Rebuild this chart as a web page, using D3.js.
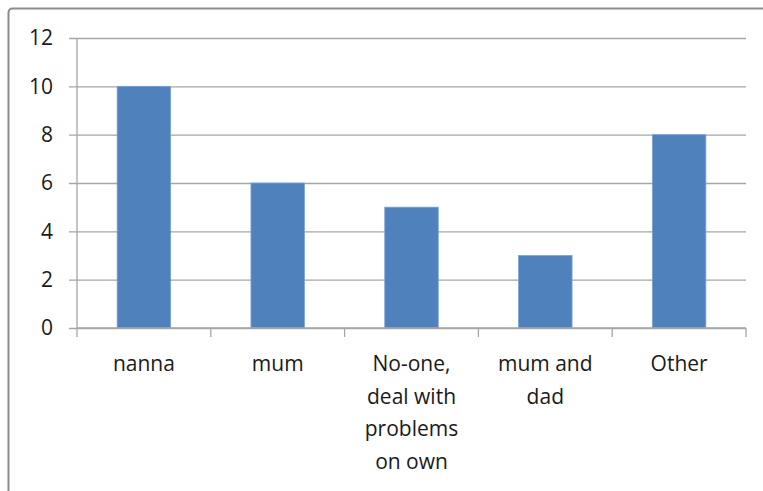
<!DOCTYPE html>
<html>
<head>
<meta charset="utf-8">
<script src="https://cdn.jsdelivr.net/npm/d3@7"></script>
<style>
  body { margin: 0; background: #fff; }
  text { font-family: "Open Sans", "Noto Sans", sans-serif; fill: #1a1a1a; }
</style>
</head>
<body>
<div id="chart"></div>
<script>
const categories = [["nanna"], ["mum"], ["No-one,", "deal with", "problems", "on own"], ["mum and", "dad"], ["Other"]];
const values = [10, 6, 5, 3, 8];
const yTicks = [0, 2, 4, 6, 8, 10, 12];

const W = 763, H = 491;
const margin = {top: 38, right: 17, bottom: 163, left: 77};
const width = W - margin.left - margin.right;
const height = H - margin.top - margin.bottom;

const root = d3.select("#chart").append("svg")
    .attr("width", W)
    .attr("height", H);

// outer frame, cut off at right and bottom
root.append("rect")
    .attr("x", 8.5).attr("y", 8.5)
    .attr("width", W + 20).attr("height", H + 20)
    .attr("rx", 4)
    .style("fill", "#fff")
    .style("stroke", "#8c8c8c")
    .style("stroke-width", 2);

const svg = root.append("g")
    .attr("transform", `translate(${margin.left},${margin.top})`);

const keys = categories.map((d, i) => i);
const x = d3.scaleBand().domain(keys).range([0, width]).padding(0);
const y = d3.scaleLinear().domain([0, 12]).range([height, 0]);

// gridlines with left tick stubs
svg.append("g")
    .attr("class", "grid")
    .call(d3.axisLeft(y).tickValues(yTicks).tickSize(-width).tickFormat(""))
    .call(g => g.select(".domain").remove())
    .call(g => g.selectAll("line").attr("x1", -8).style("stroke", "#a6a6a6").style("stroke-width", 1.3));

// y axis line and labels
svg.append("line")
    .attr("x1", 0).attr("x2", 0)
    .attr("y1", 0).attr("y2", height)
    .style("stroke", "#a6a6a6").style("stroke-width", 1.3);

svg.selectAll(".ylab")
    .data(yTicks)
    .enter()
    .append("text")
    .attr("class", "ylab")
    .attr("x", -24)
    .attr("y", d => y(d))
    .attr("dy", "0.35em")
    .style("text-anchor", "end")
    .style("font-size", "21px")
    .text(d => d);

// bars
const barW = x.bandwidth() * 0.4;
svg.selectAll(".bar")
    .data(values)
    .enter()
    .append("rect")
    .attr("class", "bar")
    .attr("x", (d, i) => x(i) + x.bandwidth() / 2 - barW / 2)
    .attr("y", d => y(d))
    .attr("width", barW)
    .attr("height", d => height - y(d))
    .style("fill", "#4f81bd")
    .style("stroke", "#7da2d3")
    .style("stroke-width", 0.8);

// x axis line + ticks at category boundaries
svg.append("line")
    .attr("x1", 0).attr("x2", width)
    .attr("y1", height).attr("y2", height)
    .style("stroke", "#a6a6a6").style("stroke-width", 1.3);

svg.selectAll(".xtick")
    .data(d3.range(categories.length + 1))
    .enter()
    .append("line")
    .attr("class", "xtick")
    .attr("x1", d => d * x.step()).attr("x2", d => d * x.step())
    .attr("y1", height).attr("y2", height + 9)
    .style("stroke", "#a6a6a6").style("stroke-width", 1.3);

// category labels
const labels = svg.selectAll(".xlab")
    .data(categories)
    .enter()
    .append("text")
    .attr("class", "xlab")
    .attr("transform", (d, i) => `translate(${x(i) + x.bandwidth() / 2},${height + 43})`)
    .style("text-anchor", "middle")
    .style("font-size", "21px");

labels.selectAll("tspan")
    .data(d => d)
    .enter()
    .append("tspan")
    .attr("x", 0)
    .attr("y", (d, i) => i * 32.5)
    .text(d => d);
</script>
</body>
</html>
